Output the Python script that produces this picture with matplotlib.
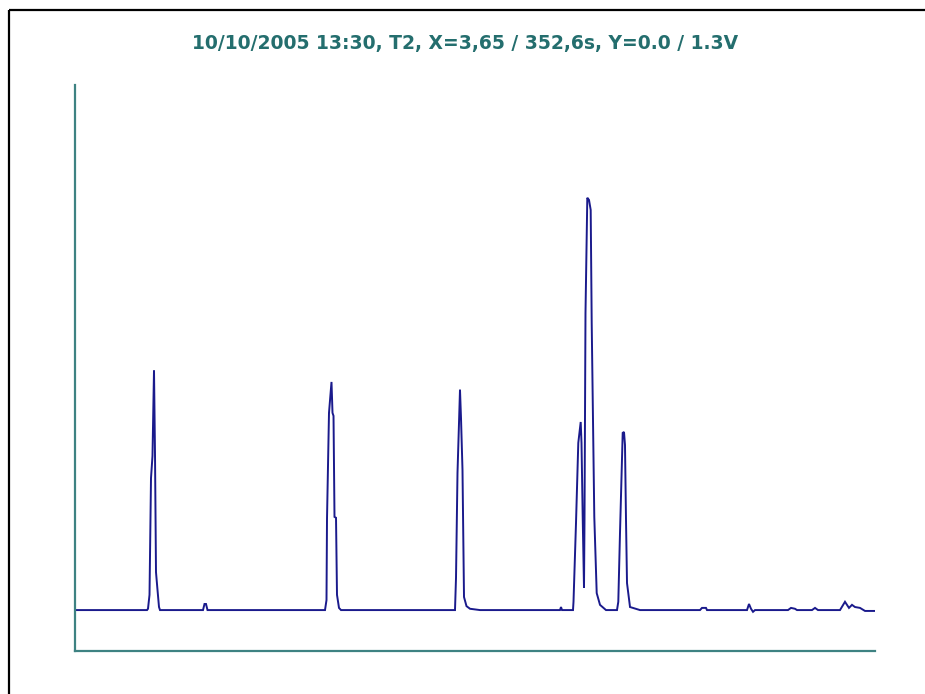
import matplotlib
matplotlib.use("Agg")
import matplotlib.pyplot as plt
from matplotlib.lines import Line2D

# detector trace, time (s) and signal (V)
time_s = [
    3.65, 35.06, 35.49, 36.15, 36.80, 37.45, 38.11, 38.55, 38.98, 39.64, 40.29, 40.73,
    59.48, 60.14, 60.79, 61.45,
    112.70, 113.35, 113.57, 114.44, 115.53, 115.97, 116.41, 116.84, 117.50, 117.93, 118.80, 119.68,
    169.40, 169.84, 170.49, 171.58, 172.02, 172.67, 173.33, 174.42, 175.95, 180.31,
    215.20, 215.64, 216.08,
    220.87, 221.09, 222.18, 223.18, 224.23, 224.58, 225.10, 225.67, 225.89, 226.32, 227.11,
    227.85, 228.59, 229.03, 230.16, 231.21, 232.65, 235.27,
    240.06, 240.63, 241.37, 242.55, 243.12, 243.55, 243.99, 244.43, 245.74, 250.10,
    276.27, 277.14, 278.88, 279.32,
    296.77, 297.64, 298.51, 299.39, 300.26,
    314.65, 315.96, 317.70, 318.58,
    325.12, 326.43, 327.74,
    337.33, 339.51, 341.25, 342.56, 343.87, 346.05, 348.24, 352.60,
]
signal_v = [
    0.094, 0.094, 0.097, 0.129, 0.397, 0.448, 0.645, 0.450, 0.181, 0.140, 0.101, 0.094,
    0.094, 0.108, 0.108, 0.094,
    0.094, 0.117, 0.303, 0.547, 0.618, 0.547, 0.540, 0.308, 0.306, 0.129, 0.099, 0.094,
    0.094, 0.168, 0.409, 0.600, 0.535, 0.416, 0.124, 0.103, 0.097, 0.094,
    0.094, 0.101, 0.094,
    0.094, 0.113, 0.294, 0.478, 0.526, 0.478, 0.308, 0.145, 0.301, 0.776, 1.041,
    1.036, 1.013, 0.753, 0.308, 0.133, 0.106, 0.094,
    0.094, 0.113, 0.271, 0.501, 0.503, 0.473, 0.301, 0.156, 0.101, 0.094,
    0.094, 0.099, 0.099, 0.094,
    0.094, 0.108, 0.097, 0.090, 0.094,
    0.094, 0.099, 0.097, 0.094,
    0.094, 0.099, 0.094,
    0.094, 0.113, 0.099, 0.106, 0.101, 0.099, 0.092, 0.092,
]

title = "10/10/2005 13:30, T2, X=3,65 / 352,6s, Y=0.0 / 1.3V"
x_range = (3.65, 352.6)
y_range = (0.0, 1.3)

W, H = 925, 694
fig = plt.figure(figsize=(W / 100, H / 100), dpi=100)
fig.patch.set_facecolor("white")

# outer frame (only left and top edges fall inside the image)
fig.add_artist(Line2D([8.5 / W, 8.5 / W], [0, 1 - 10 / H], transform=fig.transFigure,
                      color="black", lw=1.6, solid_capstyle="butt"))
fig.add_artist(Line2D([8.5 / W, 1], [1 - 10 / H, 1 - 10 / H], transform=fig.transFigure,
                      color="black", lw=1.6, solid_capstyle="butt"))

ax = fig.add_axes([75 / W, (H - 651) / H, 800 / W, (651 - 85) / H])
ax.plot(time_s, signal_v, color="#1a1a8c", lw=1.4, solid_joinstyle="miter")
ax.set_xlim(*x_range)
ax.set_ylim(*y_range)

axis_color = "#3e8282"
for side in ("top", "right"):
    ax.spines[side].set_visible(False)
for side in ("left", "bottom"):
    ax.spines[side].set_color(axis_color)
    ax.spines[side].set_linewidth(1.6)
ax.set_xticks([])
ax.set_yticks([])

fig.text(465 / W, 1 - 43 / H, title, ha="center", va="center",
         fontsize=13.5, fontweight="bold", color="#246e6e", family="DejaVu Sans")

fig.savefig("out.png", dpi=100, facecolor="white")
